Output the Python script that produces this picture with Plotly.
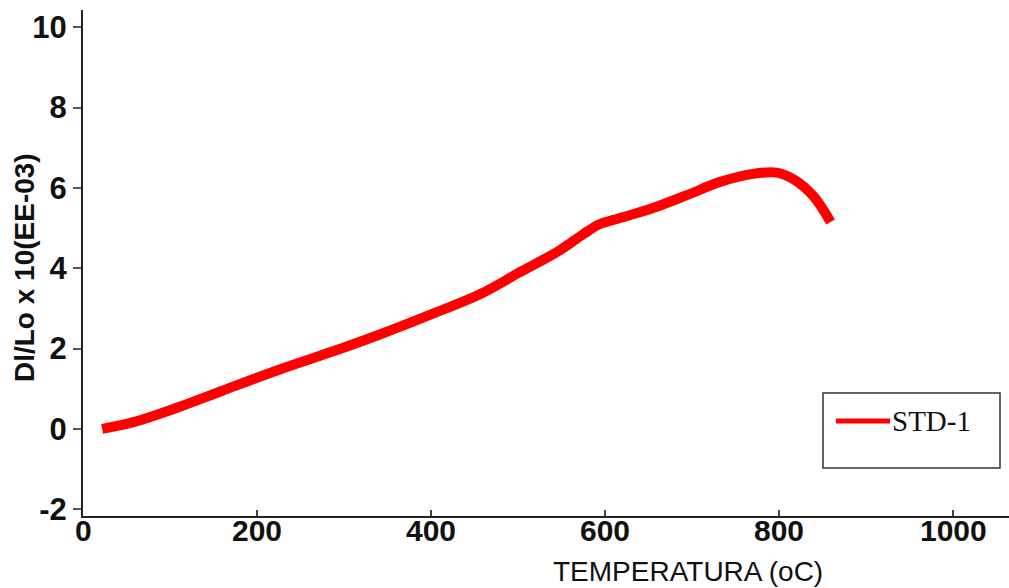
import plotly.graph_objects as go

# Data
temperatura = [22, 60, 111, 160, 226, 290, 341, 400, 456, 502, 548, 575, 594,
               617, 655, 694, 732, 770, 797, 816, 839, 859]
dl_lo = [0.0, 0.18, 0.55, 0.95, 1.48, 1.95, 2.35, 2.85, 3.35, 3.9, 4.45, 4.85,
         5.1, 5.25, 5.5, 5.82, 6.15, 6.35, 6.38, 6.22, 5.8, 5.15]
series_name = "STD-1"
x_ticks = [0, 200, 400, 600, 800, 1000]
y_ticks = [-2, 0, 2, 4, 6, 8, 10]

RED = "#ff0000"
FONT = "Liberation Sans, Arial, sans-serif"

fig = go.Figure()
fig.add_trace(go.Scatter(
    x=temperatura, y=dl_lo, mode="lines", name=series_name,
    line=dict(color=RED, width=10, shape="spline", smoothing=1.0),
    showlegend=False,
))

annotations = [
    dict(text=str(v), xref="x", yref="paper", x=v, y=0, yshift=4,
         showarrow=False, xanchor="center", yanchor="top",
         font=dict(family=FONT, size=30, color="#111", weight="bold"))
    for v in x_ticks
]
annotations += [
    dict(text="TEMPERATURA (oC)", xref="paper", yref="paper", x=0.653, y=0,
         yshift=-55, showarrow=False, xanchor="center", yanchor="middle",
         font=dict(family=FONT, size=28, color="#111")),
    dict(text="Dl/Lo x 10(EE-03)", xref="paper", yref="paper",
         x=0, xshift=-59, y=0.49, textangle=-90, showarrow=False,
         xanchor="center", yanchor="middle",
         font=dict(family=FONT, size=28, color="#111", weight="bold")),
    dict(text=series_name, xref="paper", yref="paper",
         x=(890 - 83) / 926, y=(516 - 421) / 506, showarrow=False,
         xanchor="left", yanchor="middle",
         font=dict(family="Liberation Serif, Times New Roman, serif", size=29, color="#111")),
]

fig.update_layout(
    width=1009, height=588,
    margin=dict(l=83, r=0, t=10, b=72),
    paper_bgcolor="white", plot_bgcolor="white",
    xaxis=dict(
        range=[0, 1064], tickvals=x_ticks, showticklabels=False,
        showgrid=False, zeroline=False, showline=True, linecolor="#222",
        linewidth=2, ticks="inside", ticklen=6, tickcolor="#444", tickwidth=2,
    ),
    yaxis=dict(
        range=[-2.17, 10.43], tickvals=y_ticks, ticktext=[str(v) for v in y_ticks],
        showgrid=False, zeroline=False, showline=True, linecolor="#222",
        linewidth=2, ticks="outside", ticklen=8, tickcolor="#555", tickwidth=2,
        tickfont=dict(family=FONT, size=31, color="#111", weight="bold"),
    ),
    annotations=annotations,
    shapes=[
        dict(type="rect", xref="paper", yref="paper",
             x0=(823 - 83) / 926, x1=(1000 - 83) / 926,
             y0=(516 - 468) / 506, y1=(516 - 393) / 506,
             line=dict(color="#333", width=1.5), fillcolor="white", layer="above"),
        dict(type="line", xref="paper", yref="paper",
             x0=(836 - 83) / 926, x1=(890 - 83) / 926,
             y0=(516 - 421) / 506, y1=(516 - 421) / 506,
             line=dict(color=RED, width=5), layer="above"),
    ],
)

fig.write_html("out.html")
